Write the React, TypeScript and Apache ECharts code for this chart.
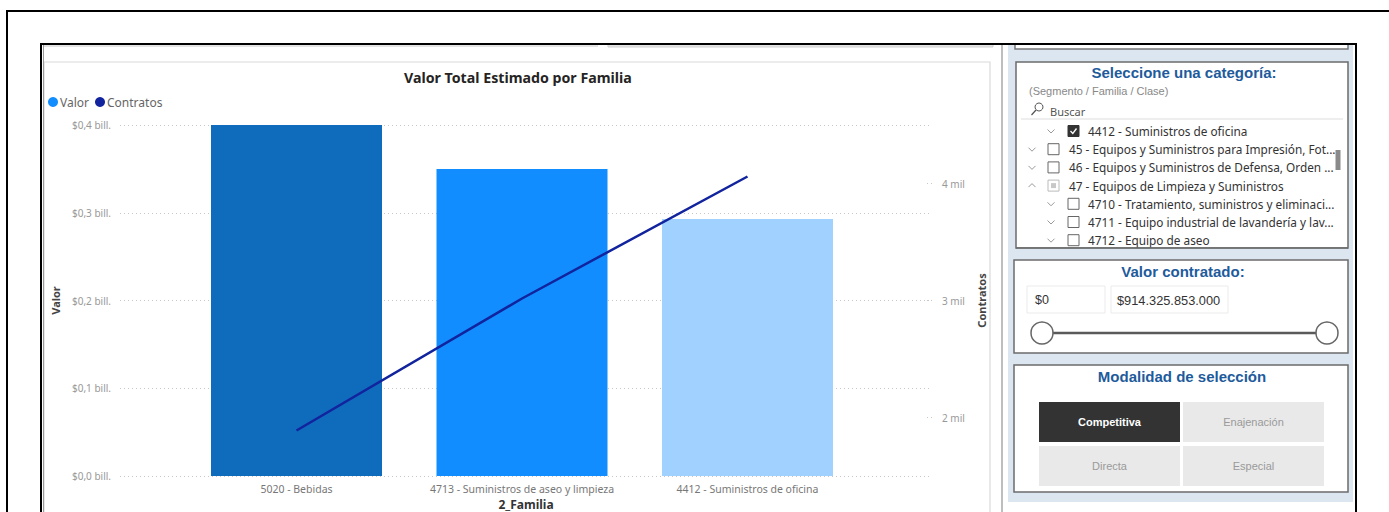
import React, { useEffect, useRef } from "react";
import * as echarts from "echarts";

const categories = [
  "5020 - Bebidas",
  "4713 - Suministros de aseo y limpieza",
  "4412 - Suministros de oficina",
];
const valor = [400e9, 350e9, 293e9];
const contratos = [1889, 3017, 4060];
const barColors = ["#0F6CBD", "#118DFF", "#A0D1FF"];
const contratosTicks = [2000, 3000, 4000];

const treeItems = [
  { level: 2, open: false, state: "checked", label: "4412 - Suministros de oficina" },
  { level: 1, open: false, state: "empty", label: "45 - Equipos y Suministros para Impresión, Fot..." },
  { level: 1, open: false, state: "empty", label: "46 - Equipos y Suministros de Defensa, Orden ..." },
  { level: 1, open: true, state: "partial", label: "47 - Equipos de Limpieza y Suministros" },
  { level: 2, open: false, state: "empty", label: "4710 - Tratamiento, suministros y eliminaci..." },
  { level: 2, open: false, state: "empty", label: "4711 - Equipo industrial de lavandería y lav..." },
  { level: 2, open: false, state: "empty", label: "4712 - Equipo de aseo" },
];
const modalidades = ["Competitiva", "Enajenación", "Directa", "Especial"];

const PBI = "'Noto Sans', 'Open Sans', sans-serif";
const ARIAL = "'Liberation Sans', Arial, sans-serif";
const BLUE_T = "#1E5B9C";

function buildGraphic() {
  const g: any[] = [];
  const rect = (x: number, y: number, w: number, h: number, style: any, z = 0) =>
    g.push({ type: "rect", shape: { x, y, width: w, height: h }, style, z, silent: true });
  const line = (x1: number, y1: number, x2: number, y2: number, style: any, z = 1) =>
    g.push({ type: "line", shape: { x1, y1, x2, y2 }, style, z, silent: true });
  const text = (x: number, y: number, t: string, style: any, z = 2) =>
    g.push({ type: "text", x, y, style: { text: t, verticalAlign: "middle", ...style }, z, silent: true });

  // Right panel background
  rect(1008, 45, 345, 457, { fill: "#DCE6F0" }, 0);
  // top stub cards
  rect(44, 44, 554, 3, { fill: "#E4E4E4" }, 0);
  rect(608, 44, 385, 3, { fill: "#E4E4E4", stroke: "#D0D0D0", lineWidth: 1 }, 0);
  rect(1015, 44, 333, 5, { fill: "#FFFFFF", stroke: "#777", lineWidth: 1.5 }, 1);
  // chart panel border
  rect(44, 62, 946, 470, { fill: "none", stroke: "#DADADA", lineWidth: 1.2 }, 0);
  // frames
  line(6, 11, 1389, 11, { stroke: "#000", lineWidth: 2 }, 5);
  line(7, 11, 7, 512, { stroke: "#000", lineWidth: 2 }, 5);
  line(40, 44, 1357, 44, { stroke: "#000", lineWidth: 2 }, 5);
  line(41, 44, 41, 512, { stroke: "#000", lineWidth: 2 }, 5);
  line(1356, 44, 1356, 512, { stroke: "#000", lineWidth: 2 }, 5);
  line(43.5, 45, 43.5, 512, { stroke: "#9A9A9A", lineWidth: 1 }, 5);
  line(1002, 45, 1002, 512, { stroke: "#A8A8A8", lineWidth: 1.5 }, 5);

  // Category slicer
  rect(1016, 62, 332, 186, { fill: "#FFFFFF", stroke: "#6B6B6B", lineWidth: 1.5 }, 1);
  text(1184, 72, "Seleccione una categoría:", {
    fill: BLUE_T, fontFamily: ARIAL, fontWeight: "bold", fontSize: 15, align: "center",
  });
  text(1029, 91, "(Segmento / Familia / Clase)", { fill: "#888", fontFamily: ARIAL, fontSize: 11 });
  g.push({ type: "circle", shape: { cx: 1039, cy: 107, r: 4 }, style: { fill: "none", stroke: "#555", lineWidth: 1 }, z: 2 });
  line(1036, 110, 1031.5, 115, { stroke: "#555", lineWidth: 1.2 }, 2);
  text(1050, 111, "Buscar", { fill: "#555", fontFamily: PBI, fontSize: 11 });
  line(1021, 119, 1343, 119, { stroke: "#DDDDDD", lineWidth: 1 }, 2);
  treeItems.forEach((it, i) => {
    const y = 131 + i * 18.2;
    const cx = it.level === 1 ? 1032 : 1051;
    const bx = it.level === 1 ? 1048 : 1068;
    const tx = it.level === 1 ? 1069 : 1088;
    const chev = it.open
      ? [[cx - 3.5, y + 1.5], [cx, y - 2], [cx + 3.5, y + 1.5]]
      : [[cx - 3.5, y - 1.5], [cx, y + 2], [cx + 3.5, y - 1.5]];
    g.push({ type: "polyline", shape: { points: chev }, style: { stroke: "#999", lineWidth: 1, fill: "none" }, z: 2 });
    if (it.state === "checked") {
      rect(bx, y - 5.5, 11, 11, { fill: "#333", stroke: "#333", lineWidth: 1 }, 2);
      g.push({
        type: "polyline",
        shape: { points: [[bx + 2.5, y], [bx + 4.8, y + 2.5], [bx + 8.5, y - 2.5]] },
        style: { stroke: "#FFF", lineWidth: 1.3, fill: "none" }, z: 3,
      });
    } else if (it.state === "partial") {
      rect(bx, y - 5.5, 11, 11, { fill: "#FFF", stroke: "#BBB", lineWidth: 1 }, 2);
      rect(bx + 3, y - 2.5, 5, 5, { fill: "#C8C8C8" }, 3);
    } else {
      rect(bx, y - 5.5, 11, 11, { fill: "#FFF", stroke: "#666", lineWidth: 1 }, 2);
    }
    text(tx, y, it.label, { fill: "#333", fontFamily: PBI, fontSize: 11.8 });
  });
  rect(1335.5, 150, 5, 20, { fill: "#8A8A8A" }, 3);
  // cover below box bottom (clip last row)
  rect(1017, 248.8, 330, 10, { fill: "#DCE6F0" }, 4);
  line(1016, 248, 1348, 248, { stroke: "#6B6B6B", lineWidth: 1.5 }, 5);

  // Valor contratado
  rect(1014, 260, 334, 93, { fill: "#FFFFFF", stroke: "#6B6B6B", lineWidth: 1.5 }, 1);
  text(1183, 271, "Valor contratado:", {
    fill: BLUE_T, fontFamily: ARIAL, fontWeight: "bold", fontSize: 15, align: "center",
  });
  rect(1027, 286, 78, 27, { fill: "#FFF", stroke: "#EBEBEB", lineWidth: 1 }, 2);
  rect(1111, 286, 117, 27, { fill: "#FFF", stroke: "#EBEBEB", lineWidth: 1 }, 2);
  text(1035, 300, "$0", { fill: "#333", fontFamily: ARIAL, fontSize: 12.5 });
  text(1117, 300, "$914.325.853.000", { fill: "#333", fontFamily: ARIAL, fontSize: 12.8 });
  line(1042, 333, 1327, 333, { stroke: "#5A5A5A", lineWidth: 2.5 }, 2);
  g.push({ type: "circle", shape: { cx: 1042, cy: 333, r: 11 }, style: { fill: "#FFF", stroke: "#666", lineWidth: 1.5 }, z: 3 });
  g.push({ type: "circle", shape: { cx: 1327, cy: 333, r: 11 }, style: { fill: "#FFF", stroke: "#666", lineWidth: 1.5 }, z: 3 });

  // Modalidad
  rect(1014, 365, 334, 127, { fill: "#FFFFFF", stroke: "#6B6B6B", lineWidth: 1.5 }, 1);
  text(1182, 376, "Modalidad de selección", {
    fill: BLUE_T, fontFamily: ARIAL, fontWeight: "bold", fontSize: 15, align: "center",
  });
  modalidades.forEach((m, i) => {
    const col = i % 2;
    const row = Math.floor(i / 2);
    const x = 1039 + col * 144;
    const y = 402 + row * 44;
    const active = i === 0;
    rect(x, y, 141, 40, { fill: active ? "#333333" : "#E9E9E9" }, 2);
    text(x + 70.5, y + 20, m, {
      fill: active ? "#FFFFFF" : "#9A9A9A", fontFamily: ARIAL, fontSize: 11,
      fontWeight: active ? "bold" : "normal", align: "center",
    });
  });
  return g;
}

export default function App() {
  const ref = useRef<HTMLDivElement>(null);
  useEffect(() => {
    if (!ref.current) return;
    const chart = echarts.init(ref.current, null, { renderer: "svg" });
    const gridTop = 125;
    const gridBottom = 36;
    const dotted = { color: "#C8C8C8", width: 1, type: [1, 3] as any };
    chart.setOption({
      animation: false,
      textStyle: { fontFamily: PBI },
      title: {
        text: "Valor Total Estimado por Familia",
        left: 399,
        top: 65,
        textStyle: { fontFamily: PBI, fontSize: 14.2, fontWeight: "bold", color: "#252423" },
      },
      legend: {
        data: ["Valor", "Contratos"],
        left: 48,
        top: 96,
        icon: "circle",
        itemWidth: 10,
        itemHeight: 10,
        itemGap: 6,
        padding: 0,
        textStyle: { color: "#666", fontSize: 12, fontFamily: PBI, padding: [0, 0, 0, -3] },
      },
      grid: [
        { left: 120, right: 1389 - 932, top: gridTop, bottom: gridBottom, outerBoundsMode: "none", containLabel: false },
        { left: 183.75, width: 676.5, top: gridTop, bottom: gridBottom, outerBoundsMode: "none", containLabel: false },
      ],
      xAxis: [
        {
          type: "category",
          gridIndex: 0,
          data: [""],
          axisLine: { show: false },
          axisTick: { show: false },
          axisLabel: { show: false },
          name: "2_Familia",
          nameLocation: "middle",
          nameGap: 22,
          nameTextStyle: { fontFamily: PBI, fontSize: 12, fontWeight: "bold", color: "#333" },
        },
        {
          type: "category",
          gridIndex: 1,
          data: categories,
          axisLine: { show: false },
          axisTick: { show: false },
          axisLabel: { color: "#777", fontSize: 10.5, margin: 7, fontFamily: PBI, interval: 0 },
        },
      ],
      yAxis: [
        {
          type: "value",
          gridIndex: 0,
          min: 0,
          max: 0.4e12,
          interval: 0.1e12,
          axisLine: { show: false },
          axisTick: { show: false },
          splitLine: { show: true, lineStyle: dotted },
          axisLabel: {
            color: "#999",
            fontSize: 10,
            margin: 9,
            fontFamily: PBI,
            formatter: (v: number) => "$" + (v / 1e12).toFixed(1).replace(".", ",") + " bill.",
          },
          name: "Valor",
          nameLocation: "middle",
          nameRotate: 90,
          nameGap: 58,
          nameTextStyle: { fontFamily: PBI, fontSize: 11, fontWeight: "bold", color: "#444" },
        },
        {
          type: "value",
          gridIndex: 0,
          position: "right",
          min: 1500,
          max: 4500,
          axisLine: { show: false },
          splitLine: { show: false },
          axisTick: {
            show: true,
            inside: true,
            length: 8,
            customValues: contratosTicks,
            lineStyle: { color: "#C8C8C8", width: 1, type: [1, 3] as any },
          },
          axisLabel: {
            color: "#999",
            fontSize: 10,
            margin: 10,
            fontFamily: PBI,
            customValues: contratosTicks,
            formatter: (v: number) => v / 1000 + " mil",
          },
          name: "Contratos",
          nameLocation: "middle",
          nameRotate: 90,
          nameGap: 42,
          nameTextStyle: { fontFamily: PBI, fontSize: 11, fontWeight: "bold", color: "#444" },
        },
        { type: "value", gridIndex: 1, min: 0, max: 0.4e12, show: false, splitLine: { show: false } },
        { type: "value", gridIndex: 1, min: 1500, max: 4500, show: false, splitLine: { show: false } },
      ],
      series: [
        {
          name: "Valor",
          type: "bar",
          xAxisIndex: 1,
          yAxisIndex: 2,
          barWidth: 171,
          itemStyle: { color: "#118DFF" },
          data: valor.map((v, i) => ({ value: v, itemStyle: { color: barColors[i] } })),
          z: 2,
        },
        {
          name: "Contratos",
          type: "line",
          xAxisIndex: 1,
          yAxisIndex: 3,
          symbol: "none",
          lineStyle: { width: 2.5, color: "#12239E" },
          itemStyle: { color: "#12239E" },
          data: contratos,
          z: 3,
        },
      ],
      graphic: buildGraphic(),
    });
    return () => chart.dispose();
  }, []);
  return (
    <div
      ref={ref}
      style={{ position: "absolute", left: 0, top: 0, width: 1389, height: 512, background: "#FFFFFF" }}
    />
  );
}
